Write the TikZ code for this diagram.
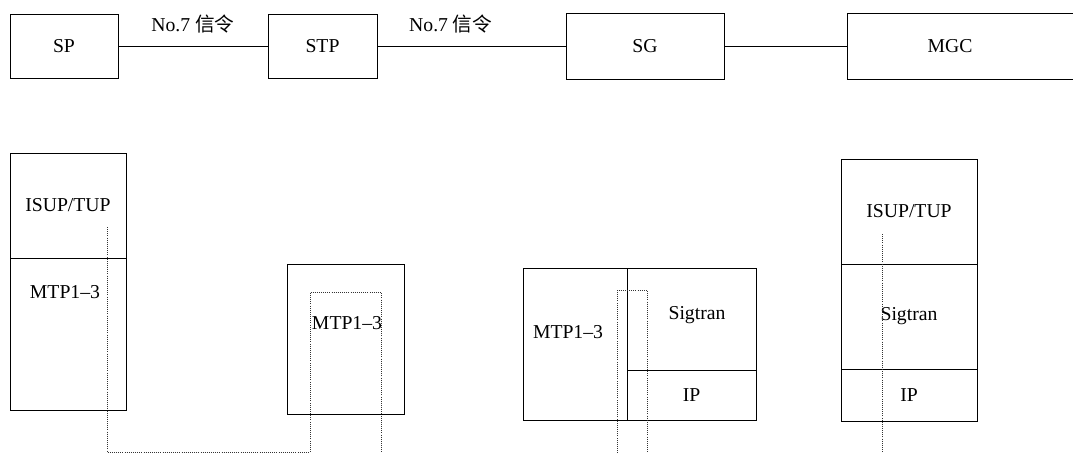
\documentclass[tikz,border=0pt]{standalone}
\usepackage{fontspec}
\setmainfont{Liberation Serif}
\newfontfamily\cjk{Noto Sans CJK SC}
\usepackage{tikz}

\begin{document}
\begin{tikzpicture}[
    x=0.025cm, y=-0.025cm,
    font=\fontsize{14}{16}\selectfont,
    netbox/.style={rectangle, draw, line width=0.6pt, inner sep=0pt},
    layer/.style={rectangle, draw, line width=0.6pt, inner sep=0pt},
    link/.style={line width=0.6pt},
    trace/.style={densely dotted, line width=0.5pt, black!80}
]
\useasboundingbox (0,0) rectangle (1073,453);

\node[netbox, minimum width=2.7cm, minimum height=1.6cm] (sp) at (64,46) {SP};
\node[netbox, minimum width=2.725cm, minimum height=1.6cm] (stp) at (322.5,46) {STP};
\node[netbox, minimum width=3.95cm, minimum height=1.65cm] (sg) at (645,46) {SG};
\node[netbox, minimum width=5.9cm, minimum height=1.65cm] (mgc) at (965,46) {};
\node (mgctxt) at (950,46) {MGC};

\draw[link] (sp) -- node[above=0.2cm] {No.7 {\cjk 信令}} (stp);
\draw[link] (stp) -- node[pos=0.39, above=0.2cm] {No.7 {\cjk 信令}} (sg);
\draw[link] (sg) -- (mgc);

\node[layer, minimum width=2.9cm, minimum height=2.625cm] (spisup) at (68,205.5) {ISUP/TUP};
\node[layer, minimum width=2.9cm, minimum height=3.8cm] (spmtp) at (68,334) {};
\node (spmtptxt) at (65,292) {MTP1–3};

\node[layer, minimum width=2.925cm, minimum height=3.75cm] (stpmtp) at (345.5,339) {};
\node (stpmtptxt) at (347,323) {MTP1–3};

\node[layer, minimum width=2.6cm, minimum height=3.8cm] (sgmtp) at (575,344) {};
\node (sgmtptxt) at (568,332) {MTP1–3};
\node[layer, minimum width=3.225cm, minimum height=2.55cm] (sgsig) at (691.5,319) {};
\node (sgsigtxt) at (697,315) {Sigtran};
\node[layer, minimum width=3.225cm, minimum height=1.25cm] (sgip) at (691.5,395) {IP};

\node[layer, minimum width=3.4cm, minimum height=2.625cm] (mgcisup) at (909,211.5) {ISUP/TUP};
\node[layer, minimum width=3.4cm, minimum height=2.625cm] (mgcsig) at (909,316.5) {Sigtran};
\node[layer, minimum width=3.4cm, minimum height=1.3cm] (mgcip) at (909,395) {IP};

\coordinate (a0) at (107,227);
\coordinate (a1) at (107,452);
\coordinate (a2) at (310,452);
\coordinate (a3) at (310,292);
\coordinate (a4) at (381,292);
\coordinate (a5) at (381,453);
\draw[trace] (a0) -- (a1) -- (a2) -- (a3) -- (a4) -- (a5);

\coordinate (b0) at (617,453);
\coordinate (b1) at (617,290);
\coordinate (b2) at (647,290);
\coordinate (b3) at (647,453);
\draw[trace] (b0) -- (b1) -- (b2) -- (b3);

\coordinate (c0) at (882,234);
\coordinate (c1) at (882,453);
\draw[trace] (c0) -- (c1);

\end{tikzpicture}
\end{document}
